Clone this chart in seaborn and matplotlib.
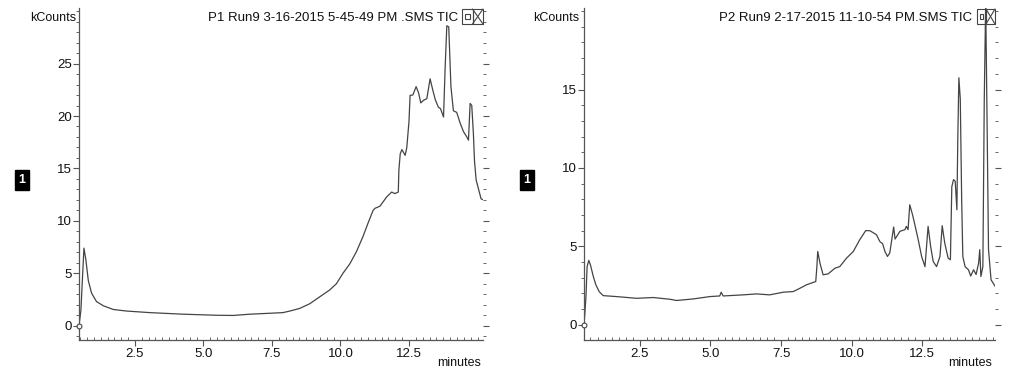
import matplotlib
matplotlib.use("Agg")
import matplotlib.pyplot as plt
import seaborn as sns
import numpy as np
import pandas as pd
from matplotlib.patches import Rectangle
from matplotlib.lines import Line2D
from matplotlib.ticker import MultipleLocator, FormatStrFormatter

# ---------------- data ----------------
p1_title = "P1 Run9 3-16-2015 5-45-49 PM .SMS TIC"
p2_title = "P2 Run9 2-17-2015 11-10-54 PM.SMS TIC"
y_label = "kCounts"
x_label = "minutes"
panel_tag = "1"

p1_time = [0.46, 0.53, 0.64, 0.71, 0.80, 0.92, 1.10, 1.35, 1.71, 2.2, 3.05, 4.26, 5.48,
           6.08, 6.69, 7.9, 8.15, 8.51, 8.88, 9.24, 9.6, 9.85, 10.09, 10.34, 10.58, 10.82,
           11.0, 11.19, 11.26, 11.44, 11.69, 11.87, 11.98, 12.11, 12.13, 12.18, 12.24, 12.36,
           12.42, 12.5, 12.54, 12.64, 12.76, 12.85, 12.93, 13.03, 13.15, 13.27, 13.37, 13.46,
           13.57, 13.65, 13.76, 13.82, 13.88, 13.95, 14.03, 14.12, 14.24, 14.37, 14.49, 14.61,
           14.67, 14.73, 14.79, 14.85, 14.89, 14.95, 15.03, 15.13, 15.22]
p1_kcounts = [0.0, 1.5, 7.4, 6.3, 4.3, 3.1, 2.3, 1.9, 1.55, 1.4, 1.25, 1.1, 1.0,
              0.98, 1.1, 1.25, 1.4, 1.65, 2.1, 2.75, 3.4, 4.0, 5.0, 5.9, 7.05, 8.5,
              9.75, 11.0, 11.2, 11.4, 12.3, 12.75, 12.6, 12.75, 14.8, 16.4, 16.8, 16.25,
              17.0, 19.5, 21.97, 22.0, 22.8, 22.2, 21.25, 21.5, 21.65, 23.55, 22.45, 21.55,
              20.85, 20.7, 19.9, 24.7, 28.6, 28.5, 22.8, 20.5, 20.35, 19.3, 18.5, 18.0,
              17.7, 21.2, 21.0, 18.3, 15.7, 13.9, 13.1, 12.1, 12.0]

p2_time = [0.52, 0.55, 0.59, 0.63, 0.69, 0.75, 0.85, 0.94, 1.06, 1.2, 1.67, 2.38, 2.97,
           3.56, 3.8, 4.39, 4.98, 5.33, 5.38, 5.45, 6.16, 6.63, 7.1, 7.58, 7.93, 8.17,
           8.4, 8.73, 8.77, 8.8, 8.88, 8.99, 9.17, 9.41, 9.58, 9.82, 10.06, 10.29, 10.5,
           10.65, 10.88, 11.0, 11.1, 11.18, 11.27, 11.35, 11.45, 11.49, 11.54, 11.71, 11.89,
           11.94, 12.0, 12.06, 12.16, 12.24, 12.36, 12.48, 12.6, 12.71, 12.8, 12.89, 13.01,
           13.13, 13.21, 13.3, 13.42, 13.5, 13.55, 13.61, 13.67, 13.73, 13.76, 13.80, 13.85,
           13.9, 13.94, 14.02, 14.14, 14.22, 14.32, 14.41, 14.50, 14.54, 14.58, 14.65, 14.70,
           14.75, 14.79, 14.85, 14.94, 15.09]
p2_kcounts = [0.0, 0.72, 1.8, 3.7, 4.1, 3.8, 3.07, 2.54, 2.1, 1.85, 1.79, 1.68, 1.73,
              1.62, 1.54, 1.64, 1.79, 1.83, 2.07, 1.83, 1.9, 1.96, 1.9, 2.07, 2.11, 2.32,
              2.54, 2.75, 3.7, 4.67, 3.92, 3.18, 3.24, 3.6, 3.7, 4.24, 4.67, 5.42, 6.0,
              5.99, 5.74, 5.3, 5.16, 4.67, 4.35, 4.56, 5.74, 6.23, 5.46, 5.95, 6.06,
              6.27, 6.06, 7.65, 7.0, 6.38, 5.42, 4.35, 3.7, 6.27, 4.99, 4.03, 3.7,
              4.35, 6.31, 5.2, 4.24, 4.14, 8.8, 9.25, 9.15, 7.33, 11.6, 15.75, 14.4,
              7.9, 4.35, 3.7, 3.5, 3.1, 3.5, 3.2, 3.93, 4.78, 3.07, 3.7, 14.4,
              20.6, 14.4, 4.8, 2.86, 2.43]

x_ticks = [2.5, 5.0, 7.5, 10.0, 12.5]
p1_y_ticks = [0, 5, 10, 15, 20, 25]
p2_y_ticks = [0, 5, 10, 15]

# ---------------- style ----------------
sns.set_style("white")
plt.rcParams['font.family'] = ['Liberation Sans', 'DejaVu Sans']
FS = 9.5
LINE = "#444444"

W, H = 1017, 369
fig = plt.figure(figsize=(W / 100, H / 100), dpi=100)


def fx(px):
    return px / W


def fy(py):
    return 1 - py / H


def make_panel(x0, x1, top, bottom, t, v, xlim, ylim, yticks, title, title_right,
               box_x0, box_x1, kc_right, tag_box, min_x):
    ax = fig.add_axes([fx(x0), fy(bottom), fx(x1) - fx(x0), fy(top) - fy(bottom)])
    df = pd.DataFrame({"minutes": t, "kCounts": v})
    sns.lineplot(data=df, x="minutes", y="kCounts", ax=ax, color=LINE, linewidth=0.9,
                 estimator=None, sort=False)
    ax.scatter([t[0]], [v[0]], s=12, facecolors="white", edgecolors=LINE,
               linewidths=0.8, zorder=3, clip_on=False)
    ax.set_xlim(*xlim)
    ax.set_ylim(*ylim)
    ax.set_xticks(x_ticks)
    ax.xaxis.set_major_formatter(FormatStrFormatter("%.1f"))
    ax.set_yticks(yticks)
    ax.xaxis.set_minor_locator(MultipleLocator(0.25))
    ax.yaxis.set_minor_locator(MultipleLocator(1))
    ax.set_xlabel("")
    ax.set_ylabel("")
    for s in ["top", "right"]:
        ax.spines[s].set_visible(False)
    for s in ["left", "bottom"]:
        ax.spines[s].set_color("#555555")
        ax.spines[s].set_linewidth(0.9)
    ax.tick_params(axis="x", which="both", bottom=True, top=False)
    ax.tick_params(axis="y", which="both", left=True, right=True, labelright=False)
    ax.tick_params(axis="both", which="major", direction="out", length=4, width=0.8,
                   color="#555555", labelsize=FS, labelcolor="#111111")
    ax.tick_params(axis="y", which="minor", direction="out", length=2, width=0.7,
                   color="#666666")
    ax.tick_params(axis="x", which="minor", direction="in", length=2.5, width=0.7,
                   color="#666666")
    ax.tick_params(axis="x", which="major", pad=2)
    ax.tick_params(axis="y", which="major", pad=1)

    # title text & icon
    fig.text(fx(title_right), fy(18), title, ha="right", va="center", fontsize=FS,
             color="#111111")
    mid = (box_x0 + box_x1) / 2
    rect_kw = dict(fill=False, edgecolor="#444444", linewidth=0.8,
                   transform=fig.transFigure)
    btop, bbot = 9, 24
    fig.add_artist(Rectangle((fx(box_x0), fy(bbot)), fx(mid) - fx(box_x0),
                             fy(btop) - fy(bbot), **rect_kw))
    fig.add_artist(Rectangle((fx(mid), fy(bbot)), fx(box_x1) - fx(mid),
                             fy(btop) - fy(bbot), **rect_kw))
    fig.add_artist(Rectangle((fx(box_x0 + 3), fy(19)), fx(mid - 3) - fx(box_x0 + 3),
                             fy(14) - fy(19), **rect_kw))
    fig.add_artist(Line2D([fx(mid), fx(box_x1)], [fy(bbot), fy(btop)], color="#444444",
                          linewidth=0.8, transform=fig.transFigure))
    fig.add_artist(Line2D([fx(mid), fx(box_x1)], [fy(btop), fy(bbot)], color="#444444",
                          linewidth=0.8, transform=fig.transFigure))

    fig.text(fx(kc_right), fy(18), y_label, ha="right", va="center", fontsize=9,
             color="#111111")
    fig.text(fx(tag_box), fy(180), panel_tag, ha="center", va="center", fontsize=9,
             color="white", fontweight="bold",
             bbox=dict(boxstyle="square,pad=0.3", facecolor="black", edgecolor="black"))
    fig.text(fx(min_x), fy(357), x_label, ha="left", va="top", fontsize=9,
             color="#111111")
    return ax


make_panel(79, 483, 8, 340, p1_time, p1_kcounts, (0.46, 15.2), (-1.36, 30.3),
           p1_y_ticks, p1_title, 458, 462, 483, 76, 22, 437)
make_panel(584, 995, 8, 340, p2_time, p2_kcounts, (0.52, 15.08), (-0.98, 20.2),
           p2_y_ticks, p2_title, 972, 977, 995, 579, 527, 948)

fig.savefig("out.png", dpi=100)
